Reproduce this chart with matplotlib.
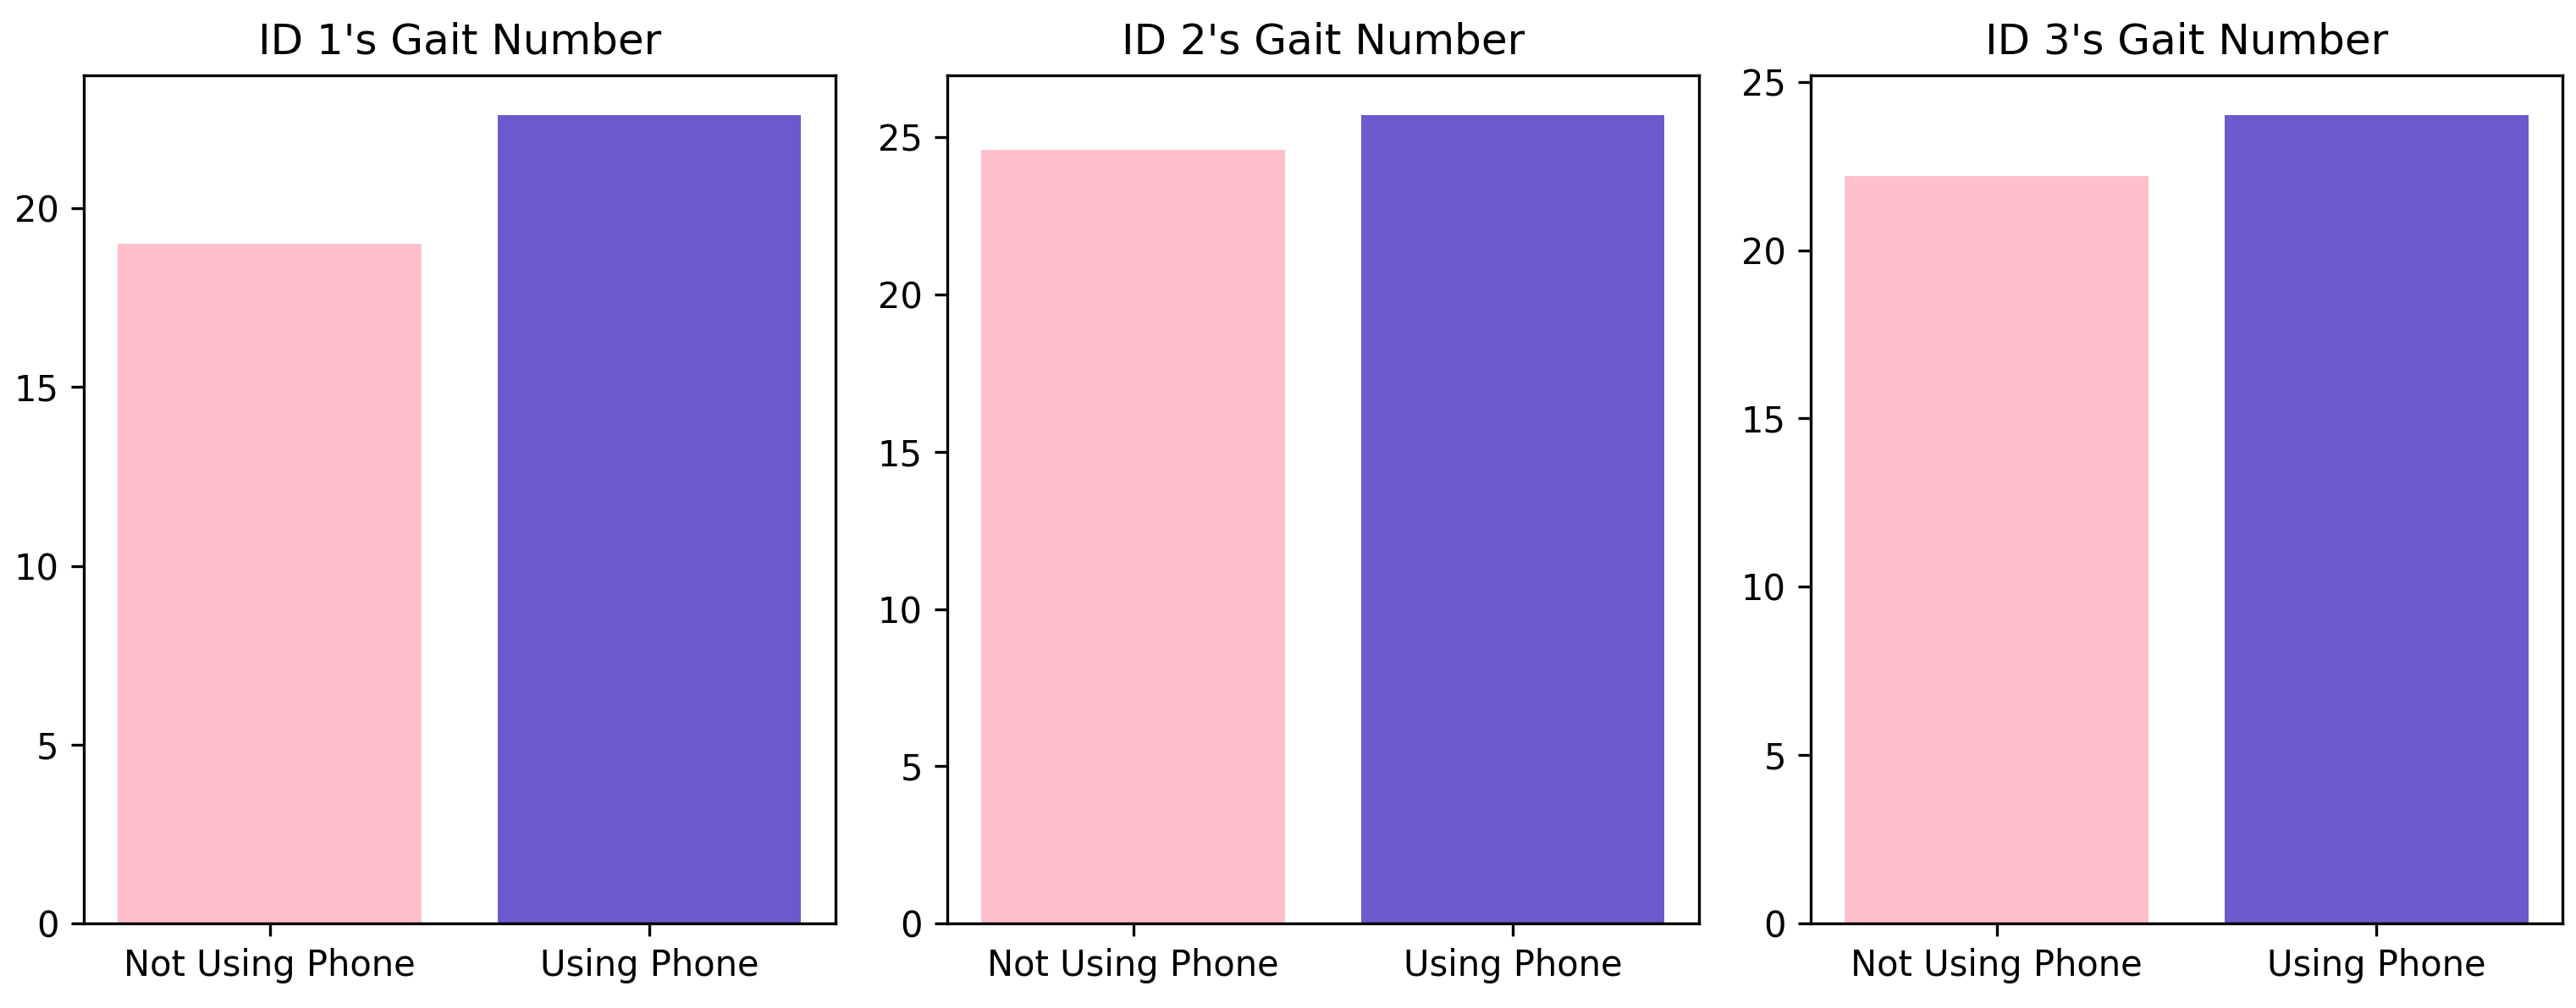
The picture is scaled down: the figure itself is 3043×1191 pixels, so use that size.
import numpy as np
import matplotlib
matplotlib.use("Agg")
import matplotlib.pyplot as plt

# gait numbers per subject
labels = ["Not Using Phone", "Using Phone"]
ids = [1, 2, 3]
not_using = [19.0, 24.6, 22.2]
using = [22.6, 25.7, 24.0]
colors = ["pink", "slateblue"]

fig, axes = plt.subplots(1, 3, figsize=(3043 / 300, 1191 / 300), dpi=300)
fig.subplots_adjust(left=0.0325, right=0.9947, bottom=0.084, top=0.9255, wspace=0.149)

for i, ax in enumerate(axes):
    ax.bar(labels, [not_using[i], using[i]], color=colors)
    ax.set_title("ID " + str(ids[i]) + "'s Gait Number")

fig.savefig("out.png", dpi=300)
